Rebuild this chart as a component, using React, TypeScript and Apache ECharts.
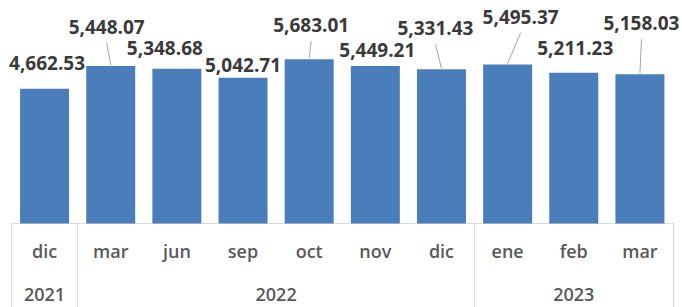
import React, { useEffect, useRef } from "react";
import * as echarts from "echarts";

const months = ["dic", "mar", "jun", "sep", "oct", "nov", "dic", "ene", "feb", "mar"];
const values = [4662.53, 5448.07, 5348.68, 5042.71, 5683.01, 5449.21, 5331.43, 5495.37, 5211.23, 5158.03];
const years = ["2021", "2022", "2023"];
const yearSpans = [1, 6, 3];

// layout only: label offset [dx, distance above bar top] and whether a leader line is drawn
const labelOffsets: [number, number][] = [
  [2.5, 26], [-4, 39], [-12, 21], [0, 13], [2, 34], [2, 16], [-6, 41], [13, 48], [1.5, 25], [1.5, 51],
];
const leaders = [false, true, false, false, true, false, true, true, false, true];

const fmt = (v: number) =>
  v.toLocaleString("en-US", { minimumFractionDigits: 2, maximumFractionDigits: 2 });

export default function App() {
  const ref = useRef<HTMLDivElement>(null);
  useEffect(() => {
    if (!ref.current) return;
    const chart = echarts.init(ref.current, null, { renderer: "svg" });

    const bounds: number[] = [0];
    yearSpans.forEach((s) => bounds.push(bounds[bounds.length - 1] + s));
    const mids = yearSpans.map((s, i) => bounds[i] + s / 2);
    const total = bounds[bounds.length - 1];

    chart.setOption({
      animation: false,
      grid: {
        left: 11.5,
        right: 9,
        top: 50,
        bottom: 83.5,
        containLabel: false,
        outerBoundsMode: "none",
      },
      xAxis: [
        {
          type: "category",
          data: months,
          position: "bottom",
          axisLine: { show: true, lineStyle: { color: "#d9d9d9", width: 1 } },
          axisTick: { show: false },
          axisLabel: {
            margin: 18,
            color: "#595959",
            fontFamily: "Open Sans",
            fontWeight: 600,
            fontSize: 18,
            interval: 0,
          },
        },
        {
          type: "value",
          min: 0,
          max: total,
          position: "bottom",
          splitLine: { show: false },
          axisLine: { show: false },
          axisTick: {
            show: true,
            customValues: bounds,
            length: 90,
            lineStyle: { color: "#d9d9d9", width: 1 },
          },
          axisLabel: {
            customValues: mids,
            formatter: (v: number) => {
              const i = mids.findIndex((m) => Math.abs(m - v) < 1e-6);
              return i >= 0 ? years[i] : "";
            },
            margin: 61,
            color: "#595959",
            fontFamily: "Open Sans",
            fontWeight: 600,
            fontSize: 18,
          },
        },
      ],
      yAxis: { type: "value", min: 0, max: 6000, show: false, splitLine: { show: false } },
      series: [
        {
          type: "bar",
          xAxisIndex: 0,
          data: values,
          barWidth: 49,
          itemStyle: { color: "#4a7ebb" },
          label: {
            show: true,
            position: "top",
            distance: 0,
            verticalAlign: "middle",
            formatter: (p: any) => fmt(p.value),
            color: "#3a3a3a",
            fontFamily: "Open Sans",
            fontWeight: "bold",
            fontSize: 19,
          },
          labelLayout: (p: any) => ({
            dx: labelOffsets[p.dataIndex][0],
            dy: -labelOffsets[p.dataIndex][1],
          }),
        },
        {
          type: "custom",
          xAxisIndex: 0,
          yAxisIndex: 0,
          data: values.map((v, i) => [i, v]),
          renderItem: (params: any, api: any) => {
            const i = params.dataIndex;
            if (!leaders[i]) return null;
            const pt = api.coord([api.value(0), api.value(1)]);
            const [dx, above] = labelOffsets[i];
            return {
              type: "line",
              shape: { x1: pt[0] + dx, y1: pt[1] - above + 16, x2: pt[0], y2: pt[1] - 1 },
              style: { stroke: "#a6a6a6", lineWidth: 1 },
            };
          },
          z: 1,
        },
      ],
    });
    return () => chart.dispose();
  }, []);
  return (
    <div
      ref={ref}
      style={{ position: "fixed", left: 0, top: 0, width: 682, height: 307, background: "#fff" }}
    />
  );
}
